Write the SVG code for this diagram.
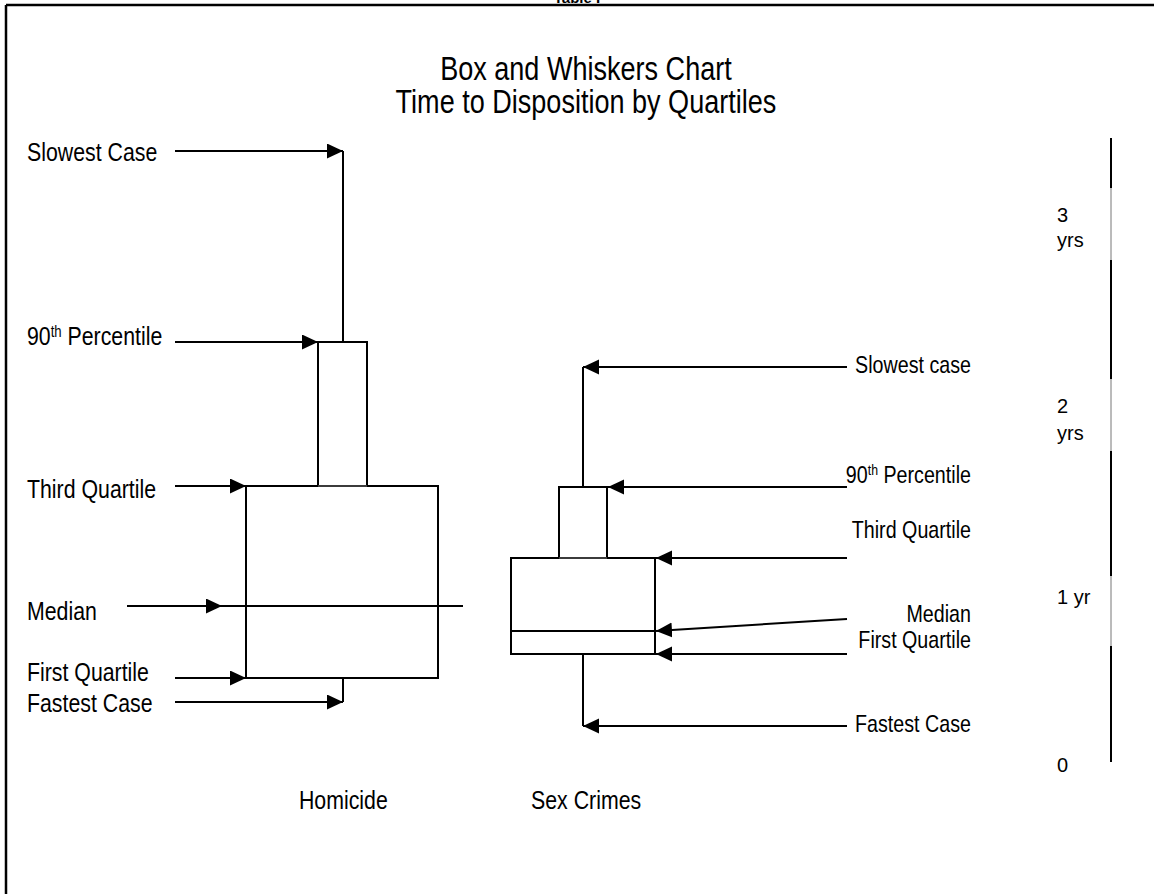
<svg xmlns="http://www.w3.org/2000/svg" width="1154" height="894" viewBox="0 0 1154 894">
<style>
.lbl{font-family:"Liberation Sans",Arial,sans-serif;font-size:26px;fill:#000}
.lblr{font-family:"Liberation Sans",Arial,sans-serif;font-size:24px;fill:#000;text-anchor:end}
.ttl{font-family:"Liberation Sans",Arial,sans-serif;font-size:33px;fill:#000;text-anchor:middle}
.ax{font-family:"Liberation Sans",Arial,sans-serif;font-size:20px;fill:#000}
.ln{stroke:#000;stroke-width:2;fill:none}
.thin{stroke:#777;stroke-width:1;fill:none}
.arr{stroke:#000;stroke-width:2;fill:none;marker-end:url(#ah)}
</style>
<defs>
<marker id="ah" markerUnits="userSpaceOnUse" markerWidth="16" markerHeight="16" refX="16" refY="7.5" orient="auto">
<path d="M0,0 L16,7.5 L0,15 z" fill="#000"/>
</marker>
</defs>
<rect width="1154" height="894" fill="#fff"/>
<g id="frame">
<line x1="6" y1="5" x2="1154" y2="5" stroke="#000" stroke-width="2.5"/>
<line x1="6" y1="5" x2="6" y2="894" stroke="#000" stroke-width="2.5"/>
<text x="577" y="3" font-family="Liberation Sans,Arial,sans-serif" font-size="15" font-weight="bold" text-anchor="middle">Table I</text>
</g>
<g id="title" transform="scale(0.82 1)">
<text class="ttl" x="714.6" y="80">Box and Whiskers Chart</text>
<text class="ttl" x="714.6" y="113">Time to Disposition by Quartiles</text>
</g>
<g id="homicide">
<line class="ln" x1="343" y1="151" x2="343" y2="342"/>
<rect class="ln" x="318" y="342" width="49" height="144"/>
<path class="ln" d="M318,486 L246,486 L246,678 L438,678 L438,486 L367,486"/>
<line class="thin" x1="318" y1="486" x2="367" y2="486"/>
<line class="ln" x1="343" y1="678" x2="343" y2="702"/>
<text class="lbl" x="364.6" y="809" transform="scale(0.82 1)">Homicide</text>
</g>
<g id="sexcrimes">
<line class="ln" x1="583" y1="367" x2="583" y2="487"/>
<rect class="ln" x="559" y="487" width="48" height="71"/>
<path class="ln" d="M559,558 L511,558 L511,654 L655,654 L655,558 L607,558"/>
<line class="thin" x1="559" y1="558" x2="607" y2="558"/>
<line class="ln" x1="511" y1="631" x2="655" y2="631"/>
<line class="ln" x1="583" y1="654" x2="583" y2="726"/>
<text class="lbl" x="647.6" y="809" transform="scale(0.82 1)">Sex Crimes</text>
</g>
<g id="left-labels" transform="scale(0.82 1)">
<text class="lbl" x="32.9" y="161">Slowest Case</text>
<text class="lbl" x="32.9" y="345">90<tspan font-size="16" dy="-8">th</tspan><tspan dy="8"> Percentile</tspan></text>
<text class="lbl" x="32.9" y="498">Third Quartile</text>
<text class="lbl" x="32.9" y="620">Median</text>
<text class="lbl" x="32.9" y="681">First Quartile</text>
<text class="lbl" x="32.9" y="712">Fastest Case</text>
</g>
<g id="right-labels" transform="scale(0.82 1)">
<text class="lblr" x="1184.1" y="373">Slowest case</text>
<text class="lblr" x="1184.1" y="483">90<tspan font-size="15" dy="-8">th</tspan><tspan dy="8"> Percentile</tspan></text>
<text class="lblr" x="1184.1" y="538">Third Quartile</text>
<text class="lblr" x="1184.1" y="622">Median</text>
<text class="lblr" x="1184.1" y="648">First Quartile</text>
<text class="lblr" x="1184.1" y="732">Fastest Case</text>
</g>
<g id="axis">
<line class="ln" x1="1111" y1="138" x2="1111" y2="188"/>
<line class="thin" x1="1111" y1="188" x2="1111" y2="260"/>
<line class="ln" x1="1111" y1="260" x2="1111" y2="379"/>
<line class="thin" x1="1111" y1="379" x2="1111" y2="451"/>
<line class="ln" x1="1111" y1="451" x2="1111" y2="576"/>
<line class="thin" x1="1111" y1="576" x2="1111" y2="646"/>
<line class="ln" x1="1111" y1="646" x2="1111" y2="762"/>
<text class="ax" x="1057" y="222">3</text>
<text class="ax" x="1057" y="247">yrs</text>
<text class="ax" x="1057" y="413">2</text>
<text class="ax" x="1057" y="440">yrs</text>
<text class="ax" x="1057" y="604">1 yr</text>
<text class="ax" x="1057" y="772">0</text>
</g>
<g id="connectors">
<line class="arr" x1="175" y1="151" x2="343" y2="151"/>
<line class="arr" x1="175" y1="342" x2="318" y2="342"/>
<line class="arr" x1="175" y1="486" x2="246" y2="486"/>
<line class="ln" x1="127" y1="606" x2="463" y2="606"/>
<line class="arr" x1="127" y1="606" x2="222" y2="606"/>
<line class="arr" x1="175" y1="678" x2="246" y2="678"/>
<line class="arr" x1="175" y1="702" x2="343" y2="702"/>
<line class="arr" x1="847" y1="367" x2="583" y2="367"/>
<line class="arr" x1="847" y1="487" x2="608" y2="487"/>
<line class="arr" x1="847" y1="558" x2="656" y2="558"/>
<line class="arr" x1="847" y1="619" x2="656" y2="631"/>
<line class="arr" x1="847" y1="654" x2="656" y2="654"/>
<line class="arr" x1="847" y1="726" x2="583" y2="726"/>
</g>
</svg>
